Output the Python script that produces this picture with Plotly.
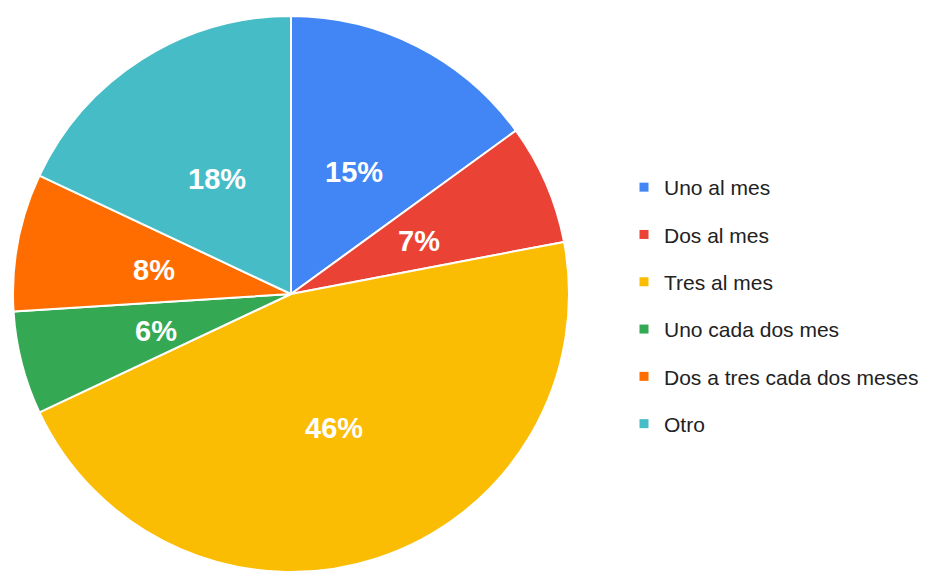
import math
import plotly.graph_objects as go

categories = ["Uno al mes", "Dos al mes", "Tres al mes", "Uno cada dos mes",
              "Dos a tres cada dos meses", "Otro"]
values = [15, 7, 46, 6, 8, 18]
colors = ["#4285F4", "#EA4335", "#FBBC04", "#34A853", "#FF6D01", "#46BDC6"]

W, H = 936, 572
cx, cy, R = 291, 294, 278
FONT = "Liberation Sans, Arial, sans-serif"

fig = go.Figure()
fig.add_trace(go.Pie(
    labels=categories, values=values, sort=False, direction="clockwise",
    rotation=0,
    marker=dict(colors=colors, line=dict(color="white", width=2)),
    textinfo="none",
    domain=dict(x=[(cx - R) / W, (cx + R) / W],
                y=[max(0, 1 - (cy + R) / H), min(1, 1 - (cy - R) / H)]),
    showlegend=False, hoverinfo="label+percent",
))

# percentage labels placed at half radius along each slice's mid angle
total = sum(values)
cum = 0
for v in values:
    mid = (cum + v / 2) / total * 2 * math.pi
    cum += v
    px = cx + 0.5 * R * math.sin(mid)
    py = cy + 2 - 0.5 * R * math.cos(mid)
    fig.add_annotation(
        x=px / W, y=1 - py / H, xref="paper", yref="paper",
        text=f"{round(v / total * 100)}%", showarrow=False,
        font=dict(family=FONT, size=29, color="white", weight="bold"),
        xanchor="center", yanchor="middle",
    )

for name, col in zip(categories, colors):
    fig.add_trace(go.Scatter(
        x=[None], y=[None], mode="markers", name=name,
        marker=dict(symbol="square", size=9, color=col),
        legendgroup=name, showlegend=True,
    ))

fig.update_layout(
    width=W, height=H, margin=dict(l=0, r=0, t=0, b=0),
    paper_bgcolor="white", plot_bgcolor="white",
    xaxis=dict(visible=False), yaxis=dict(visible=False),
    legend=dict(x=624 / W, xanchor="left", y=1 - 167 / H, yanchor="top",
                font=dict(family=FONT, size=21, color="#222222"),
                tracegroupgap=17, itemwidth=30, bgcolor="rgba(0,0,0,0)"),
)
fig.write_html("out.html")
